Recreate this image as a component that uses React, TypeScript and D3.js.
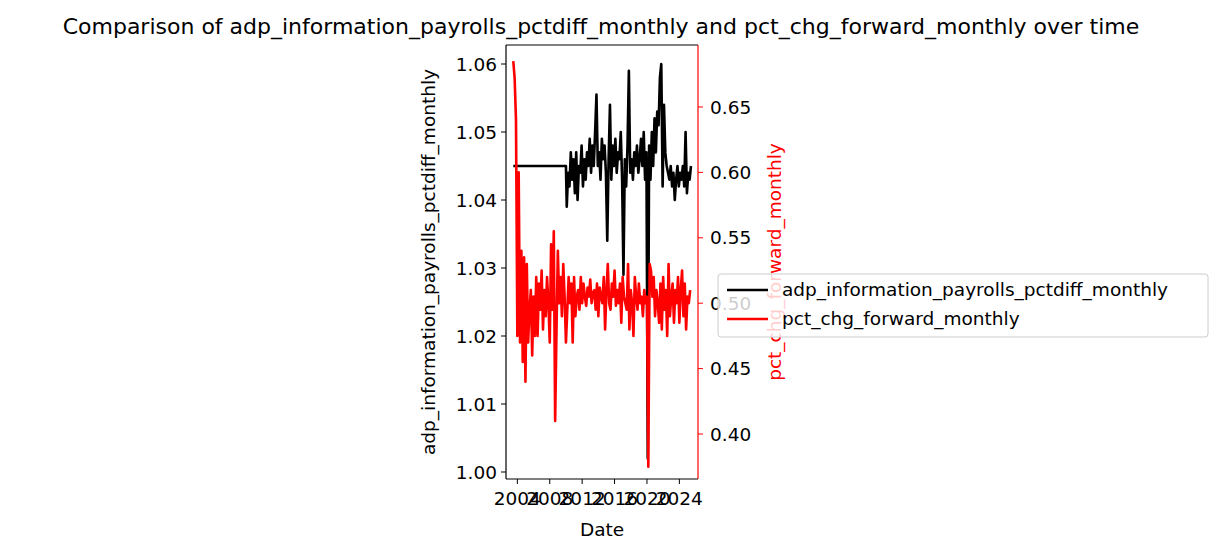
import * as d3 from "d3";

// red series: every 2 months starting mid-2003
const redStart = 2003.5;
const redValues = [
  0.685, 0.672, 0.64, 0.475, 0.6, 0.47,
  0.54, 0.455, 0.535, 0.44, 0.53, 0.47,
  0.495, 0.51, 0.46, 0.505, 0.475, 0.52,
  0.475, 0.515, 0.495, 0.525, 0.48, 0.51,
  0.49, 0.52, 0.5, 0.47, 0.545, 0.495,
  0.555, 0.41, 0.48, 0.54, 0.5, 0.52,
  0.49, 0.53, 0.505, 0.47, 0.495, 0.52,
  0.5, 0.515, 0.47, 0.52, 0.49, 0.505,
  0.51, 0.495, 0.52, 0.5, 0.515, 0.505,
  0.498, 0.512, 0.505, 0.518, 0.5, 0.508,
  0.51, 0.495, 0.515, 0.49, 0.512, 0.505,
  0.5, 0.52, 0.48, 0.51, 0.53, 0.5,
  0.495, 0.515, 0.505, 0.525, 0.498, 0.51,
  0.5, 0.515, 0.485, 0.52, 0.505, 0.5,
  0.495, 0.53, 0.48, 0.51, 0.5, 0.475,
  0.52, 0.505, 0.495, 0.515, 0.5, 0.505,
  0.49, 0.51, 0.5, 0.505, 0.375, 0.53,
  0.525, 0.505, 0.52, 0.49, 0.51, 0.5,
  0.485, 0.515, 0.48, 0.52, 0.495, 0.51,
  0.475, 0.53, 0.49, 0.505, 0.515, 0.485,
  0.51, 0.5, 0.52, 0.485, 0.51, 0.525,
  0.49, 0.515, 0.48, 0.505, 0.5, 0.51,
];

// black series: flat until 2010, then every 2 months
const blackFlat = [
  { t: 2003.5, v: 1.045 },
  { t: 2010.0, v: 1.045 },
];
const blackStart = 2010.1;
const blackValues = [
  1.039, 1.044, 1.042, 1.047, 1.043, 1.046,
  1.041, 1.047, 1.04, 1.045, 1.044, 1.048,
  1.042, 1.046, 1.043, 1.047, 1.045, 1.049,
  1.044, 1.048, 1.045, 1.05, 1.0555, 1.045,
  1.047, 1.043, 1.049, 1.046, 1.048, 1.044,
  1.034, 1.046, 1.054, 1.043, 1.048, 1.045,
  1.049, 1.044, 1.047, 1.046, 1.05, 1.043,
  1.029, 1.046, 1.042, 1.048, 1.059, 1.044,
  1.046, 1.043, 1.047, 1.045, 1.048, 1.044,
  1.046, 1.049, 1.045, 1.05, 1.043, 1.047,
  1.002, 1.048, 1.043, 1.05, 1.045, 1.052,
  1.047, 1.053, 1.051, 1.058, 1.06, 1.042,
  1.054, 1.047, 1.045, 1.044, 1.043, 1.045,
  1.042, 1.044, 1.04, 1.043, 1.045, 1.042,
  1.044, 1.043, 1.045, 1.042, 1.05, 1.041,
  1.044, 1.043, 1.045,
];

const xTicks = [2004, 2008, 2012, 2016, 2020, 2024];
const leftTicks = [1.0, 1.01, 1.02, 1.03, 1.04, 1.05, 1.06];
const rightTicks = [0.4, 0.45, 0.5, 0.55, 0.6, 0.65];

const leftName = "adp_information_payrolls_pctdiff_monthly";
const rightName = "pct_chg_forward_monthly";

export default function App() {
  const W = 1223, H = 554;
  const m = { left: 506, right: 698, top: 45, bottom: 479 };
  const x = d3.scaleLinear().domain([2002.6, 2026.3]).range([m.left, m.right]);
  const yL = d3.scaleLinear().domain([1.0, 1.06]).range([472, 64]);
  const yR = d3.scaleLinear().domain([0.4, 0.65]).range([434, 107]);

  const red = redValues.map((v, i) => ({ t: redStart + i / 6, v }));
  const black = [...blackFlat, ...blackValues.map((v, i) => ({ t: blackStart + i / 6, v }))];

  const lineL = d3.line<{ t: number; v: number }>().x((d) => x(d.t)).y((d) => yL(d.v));
  const lineR = d3.line<{ t: number; v: number }>().x((d) => x(d.t)).y((d) => yR(d.v));
  const font = "DejaVu Sans, sans-serif";
  const fs = 18.5;

  return (
    <svg width={W} height={H} style={{ position: "absolute", left: 0, top: 0 }} fontFamily={font}>
      <rect width={W} height={H} fill="#fff" />
      <text x={601} y={34} textAnchor="middle" fontSize={22}>
        Comparison of {leftName} and {rightName} over time
      </text>
      <path d={lineL(black) ?? ""} fill="none" stroke="#000" strokeWidth={2.6} strokeLinejoin="round" />
      <path d={lineR(red) ?? ""} fill="none" stroke="red" strokeWidth={2.6} strokeLinejoin="round" />
      {/* frame */}
      <line x1={m.left} x2={m.left} y1={m.top} y2={m.bottom} stroke="#000" strokeWidth={1.2} />
      <line x1={m.left} x2={m.right} y1={m.top} y2={m.top} stroke="#000" strokeWidth={1.2} />
      <line x1={m.left} x2={m.right} y1={m.bottom} y2={m.bottom} stroke="#000" strokeWidth={1.2} />
      <line x1={m.right} x2={m.right} y1={m.top} y2={m.bottom} stroke="red" strokeWidth={1.2} />
      {xTicks.map((t) => (
        <g key={t}>
          <line x1={x(t)} x2={x(t)} y1={m.bottom} y2={m.bottom + 5} stroke="#000" />
          <text x={x(t)} y={m.bottom + 26} textAnchor="middle" fontSize={fs}>{t}</text>
        </g>
      ))}
      {leftTicks.map((t) => (
        <g key={t}>
          <line x1={m.left - 5} x2={m.left} y1={yL(t)} y2={yL(t)} stroke="#000" />
          <text x={m.left - 9} y={yL(t) + 6.5} textAnchor="end" fontSize={fs}>{t.toFixed(2)}</text>
        </g>
      ))}
      {rightTicks.map((t) => (
        <g key={t}>
          <line x1={m.right} x2={m.right + 5} y1={yR(t)} y2={yR(t)} stroke="red" />
          <text x={m.right + 12} y={yR(t) + 6.5} fontSize={fs}>{t.toFixed(2)}</text>
        </g>
      ))}
      <text x={602} y={536} textAnchor="middle" fontSize={fs}>Date</text>
      <text transform={`translate(435,${(m.top + m.bottom) / 2}) rotate(-90)`} textAnchor="middle" fontSize={fs}>
        {leftName}
      </text>
      <text transform={`translate(781,${(m.top + m.bottom) / 2}) rotate(-90)`} textAnchor="middle" fontSize={fs} fill="red">
        {rightName}
      </text>
      {/* legend */}
      <rect x={718} y={274} width={490} height={63} rx={3} fill="#fff" fillOpacity={0.8} stroke="#ccc" />
      <line x1={727} x2={768} y1={290} y2={290} stroke="#000" strokeWidth={2.6} />
      <text x={782} y={296} fontSize={fs}>{leftName}</text>
      <line x1={727} x2={768} y1={319} y2={319} stroke="red" strokeWidth={2.6} />
      <text x={782} y={325} fontSize={fs}>{rightName}</text>
    </svg>
  );
}
